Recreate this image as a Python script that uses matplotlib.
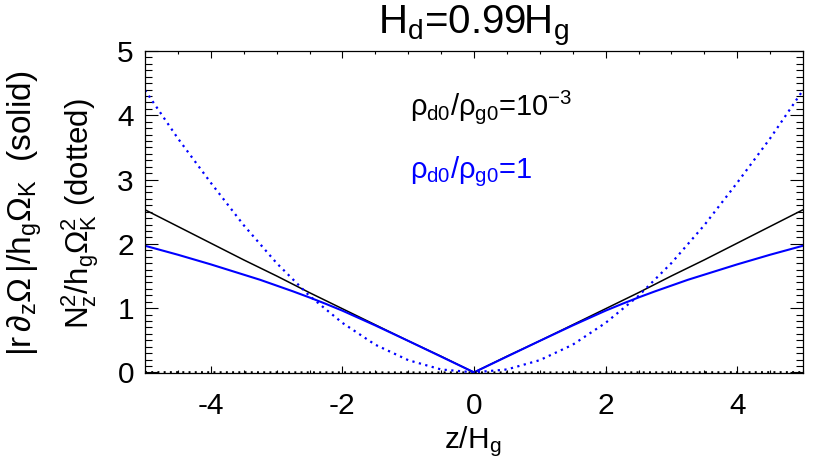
import numpy as np
import matplotlib
matplotlib.use("Agg")
import matplotlib.pyplot as plt
from matplotlib.ticker import MultipleLocator

plt.rcParams["font.family"] = ["Liberation Sans", "DejaVu Sans"]
plt.rcParams["mathtext.fontset"] = "custom"
plt.rcParams["mathtext.rm"] = "Liberation Sans"
plt.rcParams["mathtext.it"] = "Liberation Sans"
plt.rcParams["mathtext.bf"] = "Liberation Sans"
plt.rcParams["mathtext.sf"] = "Liberation Sans"

# values, z >= 0 half (curves are symmetric in z)
z_half = [0.0, 0.5, 1.0, 1.5, 2.0, 2.5, 3.0, 3.5, 4.0, 4.5, 5.0]
shear_small = [0.0, 0.25, 0.49, 0.74, 0.99, 1.24, 1.50, 1.75, 2.01, 2.27, 2.53]
nz2_small = [0.0, 0.0, 0.0002, 0.0004, 0.0008, 0.0012, 0.0017, 0.0023, 0.003, 0.0036, 0.0044]
nz2_unity = [0.0, 0.045, 0.19, 0.43, 0.77, 1.19, 1.70, 2.29, 2.95, 3.64, 4.39]
# blue solid read on a finer grid
z_half_fine = [0.0, 0.5, 1.0, 1.5, 2.0, 2.25, 2.5, 2.75, 3.0, 3.25, 3.5, 3.75,
               4.0, 4.25, 4.5, 4.75, 5.0]
shear_unity = [0.0, 0.245, 0.49, 0.73, 0.96, 1.065, 1.165, 1.26, 1.35, 1.44, 1.52,
               1.60, 1.68, 1.755, 1.83, 1.90, 1.97]


def mirror(vals):
    vals = list(vals)
    return vals[::-1] + vals[1:]


def mirror_z(zs):
    return [-v for v in zs[::-1]] + list(zs[1:])


z = mirror_z(z_half)
z_fine = mirror_z(z_half_fine)

fig = plt.figure(figsize=(8.3, 4.67), dpi=100)
ax = fig.add_axes([145 / 830, 1 - 373 / 467, 658 / 830, 322 / 467])

ax.plot(z, mirror(shear_small), color="black", lw=1.1)
ax.plot(z_fine, mirror(shear_unity), color="#0000ff", lw=1.5)
ax.plot(z, mirror(nz2_small), color="black", lw=1.4, ls=(0, (1, 2.2)))
ax.plot(z, mirror(nz2_unity), color="#0000ff", lw=1.6, ls=(0, (1, 2.0)))

ax.set_xlim(-5, 5)
ax.set_ylim(-0.01, 5)
ax.xaxis.set_major_locator(MultipleLocator(2))
ax.xaxis.set_minor_locator(MultipleLocator(0.5))
ax.yaxis.set_major_locator(MultipleLocator(1))
ax.yaxis.set_minor_locator(MultipleLocator(0.1))
ax.tick_params(axis="both", which="both", direction="in", top=True, right=True,
               labelsize=21.5, width=0.8)
ax.tick_params(axis="x", which="major", length=5, pad=14)
ax.tick_params(axis="x", which="minor", length=2.5)
ax.tick_params(axis="y", which="major", length=9.5, pad=8)
ax.tick_params(axis="y", which="minor", length=5)
ax.xaxis.set_major_formatter(plt.FuncFormatter(lambda v, p: f"{v:.0f}"))
ax.yaxis.set_major_formatter(plt.FuncFormatter(lambda v, p: f"{v:.0f}"))
for s in ax.spines.values():
    s.set_linewidth(0.9)

fig.text(474 / 830, 1 - 26 / 467, r"H$_\mathrm{d}$=0.99H$_\mathrm{g}$",
         ha="center", va="center", fontsize=29)
fig.text(473 / 830, 1 - 442 / 467, r"z/H$_\mathrm{g}$", ha="center", va="center",
         fontsize=21.5)
fig.text(25 / 830, 1 - 213 / 467,
         r"|r$\,\partial_\mathrm{z}\Omega\,$|/h$_\mathrm{g}\Omega_\mathrm{K}$  (solid)",
         rotation=90, ha="center", va="center", fontsize=24)
fig.text(80 / 830, 1 - 214 / 467, r"N$_\mathrm{z}^2$/h$_\mathrm{g}\Omega_\mathrm{K}^2$ (dotted)",
         rotation=90, ha="center", va="center", fontsize=22.5)
fig.text(410 / 830, 1 - 107 / 467, r"$\rho_\mathrm{d0}/\rho_\mathrm{g0}$=10$^{-3}$",
         ha="left", va="center", fontsize=21, color="black")
fig.text(410 / 830, 1 - 172 / 467, r"$\rho_\mathrm{d0}/\rho_\mathrm{g0}$=1",
         ha="left", va="center", fontsize=21, color="#0000ff")

fig.savefig("out.png", dpi=100)
